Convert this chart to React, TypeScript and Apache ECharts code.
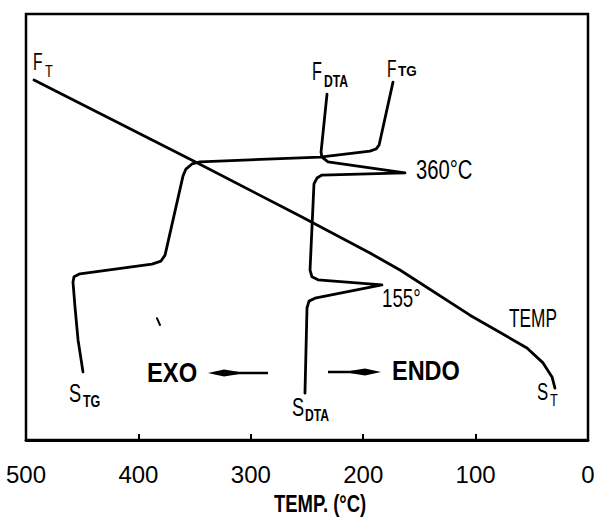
import React, { useEffect, useRef } from "react";
import * as echarts from "echarts";

// ---- data (x: temperature °C, y: chart-height units 0..100) ----
const tempX = [492.9, 349.6, 256.2, 194.0, 167.3, 105.0, 54.3, 40.0, 32.0, 29.4];
const tempY = [84.5, 65.3, 52.6, 43.9, 39.9, 29.3, 21.6, 18.1, 14.8, 12.2];

const tgX = [173.5, 185.9, 188.6, 194.0, 238.4, 345.2, 352.3, 357.7, 360.3, 376.3, 379.9, 387.9, 452.0, 457.3, 458.2, 456.4, 453.7, 449.3];
const tgY = [84.0, 69.2, 68.3, 67.8, 66.4, 65.3, 64.8, 63.6, 62.0, 43.4, 42.0, 41.3, 39.0, 38.3, 37.1, 31.2, 23.5, 16.0];

const dtaX = [232.2, 237.5, 236.7, 231.3, 162.8, 236.7, 241.1, 243.8, 247.3, 245.6, 240.2, 183.3, 242.9, 248.2, 250.0, 251.8];
const dtaY = [81.2, 67.6, 66.4, 65.3, 62.7, 62.2, 61.5, 60.1, 39.9, 38.3, 37.6, 36.4, 33.3, 32.6, 31.0, 11.0];

const specX = [383.5, 380.8];
const specY = [28.6, 27.0];

const xTicks = [500, 400, 300, 200, 100, 0];
const xTitle = "TEMP. (°C)";

const zip = (xs: number[], ys: number[]) => xs.map((x, i) => [x, ys[i]]);

const FONT = "'Liberation Sans', Arial, sans-serif";
const INK = "#000";

function txt(text: string, x: number, y: number, size: number, sx: number, bold = false, align = "left") {
  return {
    type: "text",
    x,
    y,
    z: 100,
    scaleX: sx,
    style: {
      text,
      fontSize: size,
      fontFamily: FONT,
      fontWeight: bold ? "bold" : "normal",
      fill: INK,
      align,
      verticalAlign: "middle",
    },
  };
}

export default function App() {
  const ref = useRef<HTMLDivElement>(null);
  useEffect(() => {
    if (!ref.current) return;
    const chart = echarts.init(ref.current, undefined, { renderer: "svg" });
    const lineSeries = (name: string, data: number[][], w = 2.8) => ({
      name,
      type: "line",
      data,
      showSymbol: false,
      symbol: "none",
      lineStyle: { color: INK, width: w, join: "round", cap: "round" },
      silent: true,
    });
    chart.setOption({
      animation: false,
      backgroundColor: "#fff",
      grid: {
        left: 26,
        right: 12,
        top: 14,
        bottom: 78,
        outerBoundsMode: "none",
        containLabel: false,
        show: true,
        borderColor: INK,
        borderWidth: 2.5,
        backgroundColor: "transparent",
      },
      xAxis: {
        type: "value",
        min: 0,
        max: 500,
        interval: 100,
        inverse: true,
        axisLine: { show: true, lineStyle: { color: INK, width: 2.8 } },
        axisTick: { show: true, inside: true, length: 6, lineStyle: { color: INK, width: 2 } },
        axisLabel: {
          fontFamily: FONT,
          fontSize: 24,
          color: INK,
          margin: 22,
          formatter: (v: number) => (xTicks.includes(v) ? String(v) : ""),
        },
        splitLine: { show: false },
      },
      yAxis: {
        type: "value",
        min: 0,
        max: 100,
        show: false,
        splitLine: { show: false },
      },
      series: [
        lineSeries("TEMP", zip(tempX, tempY)),
        lineSeries("TG", zip(tgX, tgY)),
        lineSeries("DTA", zip(dtaX, dtaY)),
        lineSeries("speck", zip(specX, specY), 2),
      ],
      graphic: [
        txt(xTitle, 274, 504, 24, 0.77, true),
        txt("F", 33, 61.5, 24, 0.65),
        txt("T", 45, 71, 17, 0.75),
        txt("F", 312, 71, 25, 0.65),
        txt("DTA", 324, 81, 16, 0.76, true),
        txt("F", 387, 68.5, 24, 0.65),
        txt("TG", 398, 71, 15, 0.9, true),
        txt("360°C", 416, 169.5, 27, 0.75),
        txt("155°", 382, 297.5, 26, 0.72),
        txt("TEMP", 509, 319, 25, 0.69),
        txt("S", 537, 391.5, 24, 0.7),
        txt("T", 550, 399.5, 17, 0.75),
        txt("S", 69, 393, 26, 0.7),
        txt("TG", 83, 401.5, 16, 0.78, true),
        txt("S", 292, 407.5, 26, 0.7),
        txt("DTA", 305, 415, 16, 0.76, true),
        txt("EXO", 147, 372, 27, 0.88, true),
        txt("ENDO", 392, 370, 27, 0.87, true),
        { type: "line", z: 100, shape: { x1: 268, y1: 373, x2: 215, y2: 373 }, style: { stroke: INK, lineWidth: 2.5 } },
        { type: "polygon", z: 100, shape: { points: [[208, 373], [224, 369.5], [238, 371.8], [238, 374.2], [224, 376.5]] }, style: { fill: INK } },
        { type: "line", z: 100, shape: { x1: 328, y1: 372, x2: 373, y2: 372 }, style: { stroke: INK, lineWidth: 2.5 } },
        { type: "polygon", z: 100, shape: { points: [[381, 372], [365, 368.5], [351, 370.8], [351, 373.2], [365, 375.5]] }, style: { fill: INK } },
      ],
    });
    return () => chart.dispose();
  }, []);
  return (
    <div
      ref={ref}
      style={{ position: "fixed", left: 0, top: 0, width: 600, height: 518, background: "#fff" }}
    />
  );
}
